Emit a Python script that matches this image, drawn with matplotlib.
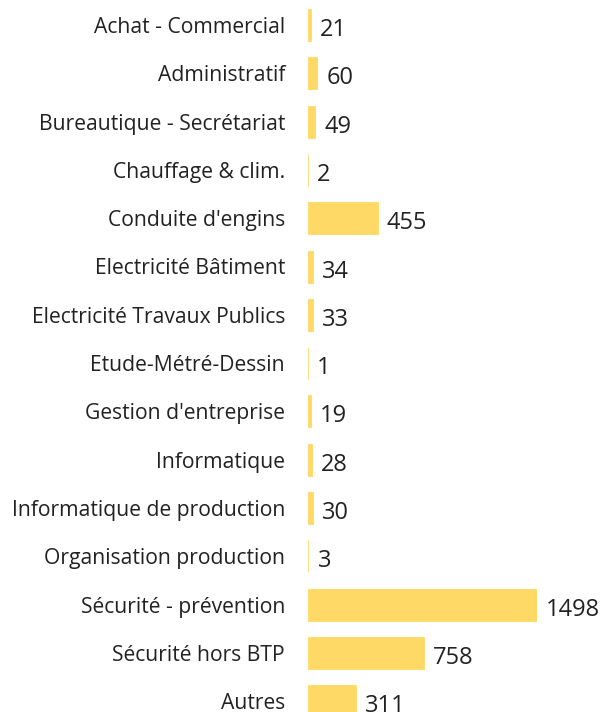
import numpy as np
import matplotlib
matplotlib.use("Agg")
import matplotlib.pyplot as plt

categories = [
    "Achat - Commercial",
    "Administratif",
    "Bureautique - Secrétariat",
    "Chauffage & clim.",
    "Conduite d'engins",
    "Electricité Bâtiment",
    "Electricité Travaux Publics",
    "Etude-Métré-Dessin",
    "Gestion d'entreprise",
    "Informatique",
    "Informatique de production",
    "Organisation production",
    "Sécurité - prévention",
    "Sécurité hors BTP",
    "Autres",
]
values = [21, 60, 49, 2, 455, 34, 33, 1, 19, 28, 30, 3, 1498, 758, 311]

BAR_COLOR = "#FFD966"
plt.rcParams["font.family"] = ["Open Sans", "DejaVu Sans"]

W, H = 606, 712
fig = plt.figure(figsize=(W / 100, H / 100), dpi=100)

# axes in pixel terms: left edge at x=308, 1498 ends at x=537
ax_left, ax_right = 308, 537
ax = fig.add_axes([ax_left / W, 0, (ax_right - ax_left) / W, 1])

row0, step = 25, 48.3  # first row centre (px) and row pitch
y = np.arange(len(categories))
# thin edge so that the 1-3 values still show as a hairline, like the reference
ax.barh(y, values, height=32 / step, color=BAR_COLOR,
        edgecolor=BAR_COLOR, linewidth=0.6)

ax.set_xlim(0, max(values))
ax.set_ylim((H - row0) / step, -row0 / step)

ax.set_yticks(y)
ax.set_yticklabels(categories, fontsize=15.2, color="#222222")
ax.tick_params(axis="y", length=0, pad=16.5)
ax.set_xticks([])
for s in ax.spines.values():
    s.set_visible(False)

for yi, v in zip(y, values):
    ax.annotate(str(v), (v, yi), xytext=(9, -5), textcoords="offset pixels",
                ha="left", va="center", fontsize=17, color="#222222",
                annotation_clip=False)

fig.savefig("out.png", dpi=100)
